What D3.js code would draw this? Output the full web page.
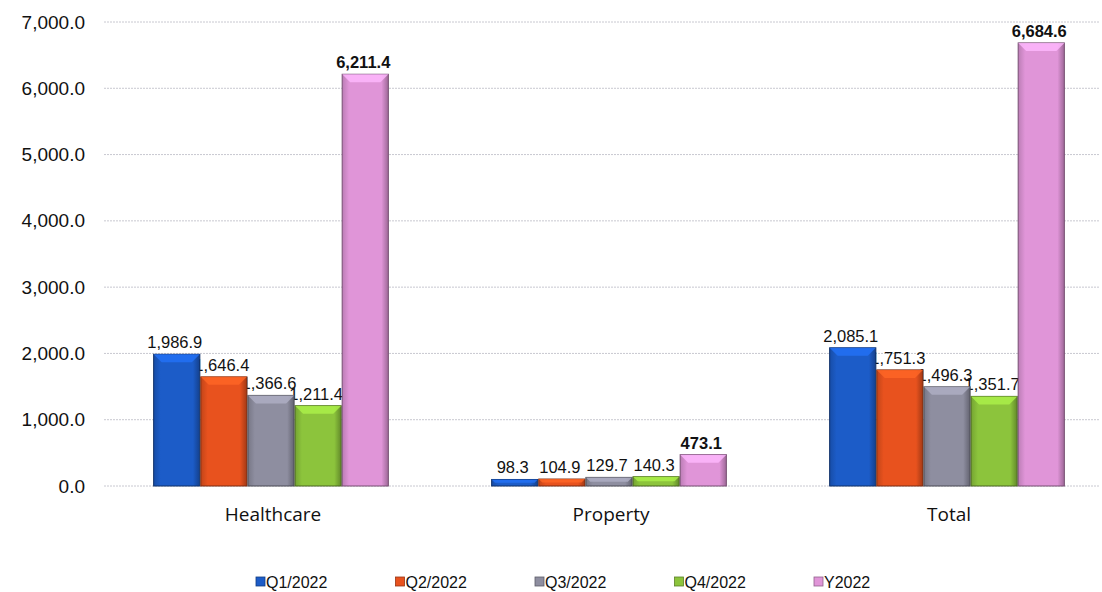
<!DOCTYPE html>
<html>
<head>
<meta charset="utf-8">
<script src="https://cdn.jsdelivr.net/npm/d3@7"></script>
<style>
  body { margin: 0; background: #fff; }
  #chart { width: 1102px; height: 592px; }
  text { font-family: "Liberation Sans", Arial, sans-serif; }
</style>
</head>
<body>
<div id="chart"></div>
<script>
// ||================================||
// || DATA                           ||
// ||================================||

var categories = ["Healthcare", "Property", "Total"];
var seriesNames = ["Q1/2022", "Q2/2022", "Q3/2022", "Q4/2022", "Y2022"];
var q1 = [1986.9, 98.3, 2085.1];
var q2 = [1646.4, 104.9, 1751.3];
var q3 = [1366.6, 129.7, 1496.3];
var q4 = [1211.4, 140.3, 1351.7];
var y2022 = [6211.4, 473.1, 6684.6];
var yTicks = [0, 1000, 2000, 3000, 4000, 5000, 6000, 7000];
var colors = ["#1c5cc8", "#e8521e", "#8e8ea0", "#8cc43c", "#e095d8"];

var seriesValues = [q1, q2, q3, q4, y2022];

// ||================================||
// || CHART                          ||
// ||================================||

var width = 1102, height = 592;
var fmt = d3.format(",.1f");

var svg = d3.select("#chart").append("svg")
    .attr("width", width)
    .attr("height", height);

var defs = svg.append("defs");
colors.forEach(function(c, i) {
  var g = defs.append("linearGradient")
      .attr("id", "grad" + i)
      .attr("x1", 0).attr("x2", 1).attr("y1", 0).attr("y2", 0);
  g.append("stop").attr("offset", "0%").attr("stop-color", d3.color(c).darker(0.5));
  g.append("stop").attr("offset", "15%").attr("stop-color", c);
  g.append("stop").attr("offset", "85%").attr("stop-color", c);
  g.append("stop").attr("offset", "100%").attr("stop-color", d3.color(c).darker(1));
});

var y = d3.scaleLinear().domain([0, 7000]).range([486, 22]);
var x0 = d3.scaleBand().domain(categories).range([104, 1118]).paddingInner(0.3).paddingOuter(0.15);
var x1 = d3.scaleBand().domain(seriesNames).range([-2, x0.bandwidth() - 2]).padding(0.02);

// gridlines
svg.append("g")
  .selectAll("line")
  .data(yTicks)
  .enter().append("line")
    .attr("x1", 104).attr("x2", 1100)
    .attr("y1", function(d) { return y(d); })
    .attr("y2", function(d) { return y(d); })
    .attr("stroke", "#c8c8d0")
    .attr("stroke-dasharray", "2,1");

// y axis labels
var yAxis = d3.axisLeft(y).tickValues(yTicks).tickFormat(fmt).tickSize(0).tickPadding(0);
var yg = svg.append("g").attr("transform", "translate(85,0)").call(yAxis);
yg.select(".domain").remove();
yg.selectAll("text")
    .style("font-size", "19px")
    .attr("fill", "#111");

// category labels
var xAxis = d3.axisBottom(x0).tickSize(0).tickPadding(0);
var xg = svg.append("g").attr("transform", "translate(0,507)").call(xAxis);
xg.select(".domain").remove();
xg.selectAll("text")
    .style("font-size", "19px")
    .style("font-family", "Open Sans, sans-serif")
    .attr("fill", "#111");

var groups = svg.append("g")
  .selectAll("g")
  .data(categories)
  .enter().append("g")
    .attr("transform", function(d) { return "translate(" + x0(d) + ",0)"; });

var items = function(d, ci) {
  return seriesNames.map(function(s, si) {
    return { cat: d, ci: ci, s: s, si: si, v: seriesValues[si][ci] };
  });
};

// value labels first, bars drawn on top (taller neighbours cover them)
groups.each(function(d, ci) {
  var g = d3.select(this);
  var data = items(d, ci);

  g.selectAll("text.val")
    .data(data)
    .enter().append("text")
      .attr("class", "val")
      .attr("x", function(e) { return x1(e.s) + x1.bandwidth() / 2 - 2; })
      .attr("y", function(e) { return y(e.v) - 6; })
      .attr("text-anchor", "middle")
      .style("font-size", "16.5px")
      .attr("font-weight", function(e) { return e.si == 4 ? "bold" : "normal"; })
      .attr("fill", "#111")
      .text(function(e) { return fmt(e.v); });

  var bar = g.selectAll("g.bar")
    .data(data)
    .enter().append("g")
      .attr("class", "bar");

  bar.append("rect")
      .attr("x", function(e) { return x1(e.s); })
      .attr("y", function(e) { return y(e.v); })
      .attr("width", x1.bandwidth())
      .attr("height", function(e) { return y(0) - y(e.v); })
      .attr("fill", function(e) { return "url(#grad" + e.si + ")"; })
      .attr("stroke", function(e) { return d3.color(colors[e.si]).darker(1.8); })
      .attr("stroke-width", 1);

  // bevel highlight on top
  bar.append("path")
      .attr("d", function(e) {
        var bx = x1(e.s), bw = x1.bandwidth(), by = y(e.v);
        var h = Math.min(8, (y(0) - by) / 2);
        var ins = Math.min(8, h);
        return "M" + bx + "," + by + "L" + (bx + bw) + "," + by +
               "L" + (bx + bw - ins) + "," + (by + h) + "L" + (bx + ins) + "," + (by + h) + "Z";
      })
      .attr("fill", function(e) { return d3.color(colors[e.si]).brighter(0.6); })
      .attr("opacity", 0.8);
});

// legend
var legend = svg.append("g")
  .selectAll("g")
  .data(seriesNames)
  .enter().append("g")
    .attr("transform", function(d, i) { return "translate(" + (256 + i * 139.5) + ",582)"; });

legend.append("rect")
    .attr("x", 0).attr("y", -5)
    .attr("width", 9).attr("height", 9)
    .attr("fill", function(d, i) { return colors[i]; })
    .attr("stroke", function(d, i) { return d3.color(colors[i]).darker(1.2); })
    .attr("stroke-width", 0.8);

legend.append("text")
    .attr("x", 10).attr("y", 6)
    .style("font-size", "16px")
    .attr("fill", "#111")
    .text(function(d) { return d; });
</script>
</body>
</html>
